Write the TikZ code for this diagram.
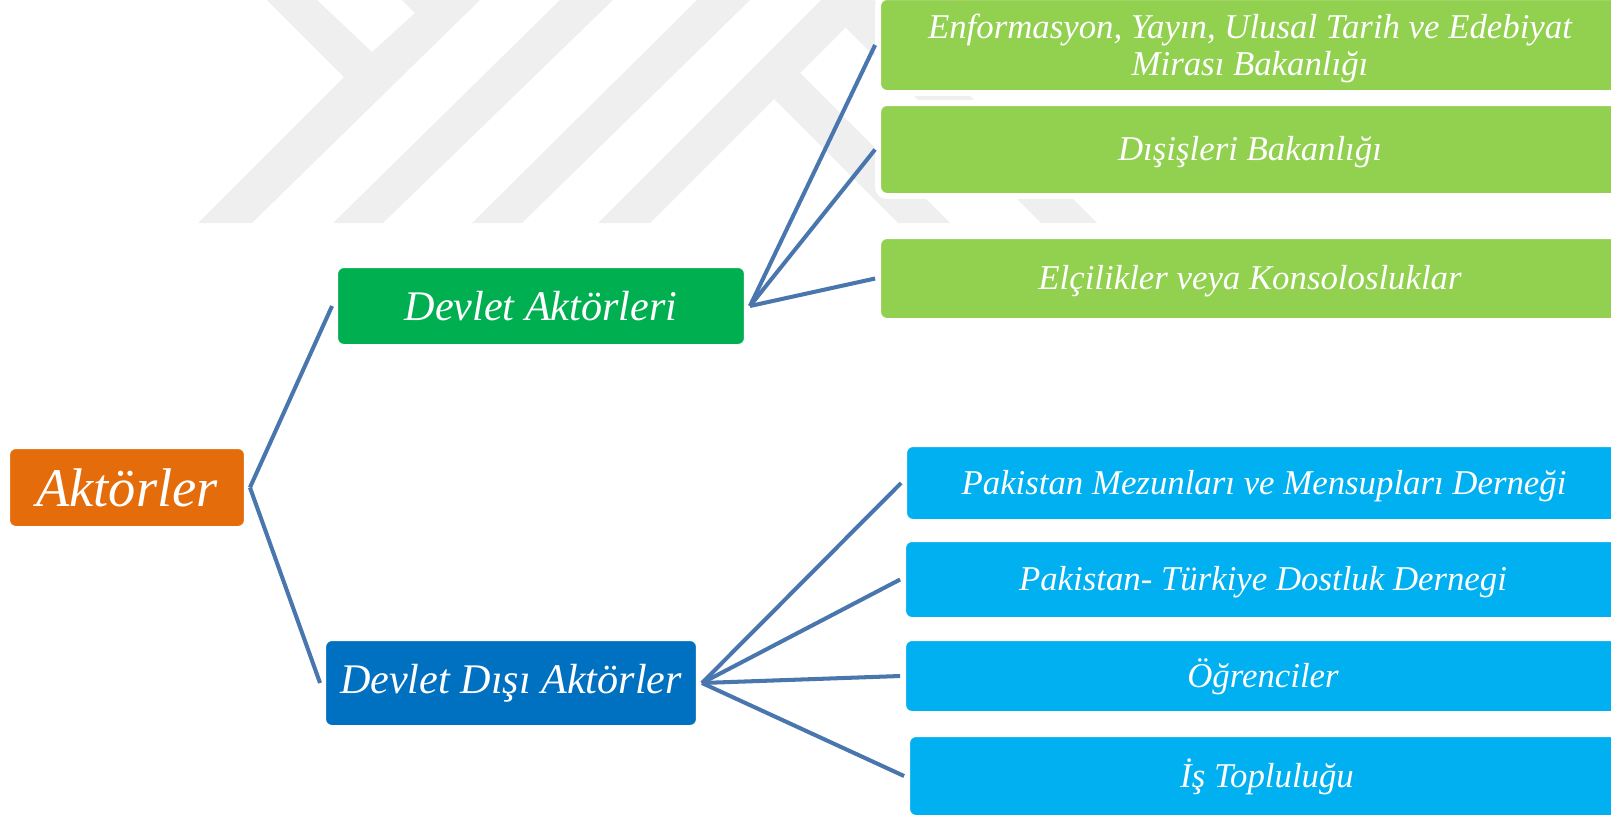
\documentclass[tikz,border=0pt]{standalone}
\usepackage{fontspec}
\setmainfont{Liberation Serif}
\usepackage{tikz}

\definecolor{rootorange}{HTML}{E46C0A}
\definecolor{stategreen}{HTML}{00B050}
\definecolor{nonstateblue}{HTML}{0070C0}
\definecolor{leafgreen}{HTML}{92D050}
\definecolor{leafblue}{HTML}{00B0F0}
\definecolor{linkblue}{HTML}{4A76AE}
\definecolor{logogray}{HTML}{EFEFEF}

\begin{document}
\begin{tikzpicture}
				[
					x = 0.02cm, y = -0.02cm,
					box/.style = {draw = white, line width = 3.4pt, rounded corners = 5pt, text = white, inner sep = 0pt, align = center},
					root/.style = {box, fill = rootorange, minimum width = 4.8cm, minimum height = 1.66cm, font = \itshape\fontsize{31}{31}\selectfont},
					group/.style = {box, minimum height = 1.64cm, font = \itshape\fontsize{24}{24}\selectfont},
					leaf/.style = {box, font = \itshape\fontsize{19.8}{20.8}\selectfont},
					oneline/.style = {text height = 16.5pt, text depth = 3.8pt},
					stateleaf/.style = {leaf, fill = leafgreen, minimum width = 14.88cm},
					civilleaf/.style = {leaf, oneline, fill = leafblue, minimum width = 14.4cm},
					link/.style = {draw = linkblue, line width = 2.3pt}
				]
				\useasboundingbox (0,0) rectangle (1611,816);
				% watermark
				\fill[logogray] (267,0) -- (317,0) -- (372,52) -- (415,13) -- (402,0) -- (480,0) -- (252,223) -- (198,223) -- (344,77) -- cycle;
				\fill[logogray] (560,0) -- (613,0) -- (383,223) -- (333,223) -- cycle;
				\fill[logogray] (697,0) -- (750,0) -- (522,223) -- (472,223) -- cycle;
				\fill[logogray] (598,223) -- (821,0) -- (874,0) -- (1097,223) -- (1041,223) -- (845.5,27.5) -- (650,223) -- cycle;
				\fill[logogray] (774,99) -- (800,73) -- (950,223) -- (898,223) -- cycle;

				\node[root] (aktorler) at (127,487.5) {Aktörler};
				\node[group, fill = stategreen, minimum width = 8.24cm] (devlet) at (541,306) {Devlet Aktörleri};
				\node[group, fill = nonstateblue, minimum width = 7.52cm, minimum height = 1.8cm] (devletdisi) at (511,683) {Devlet Dışı Aktörler};

				\node[stateleaf, minimum height = 1.92cm] (enformasyon) at (1250,45) {\rule{0pt}{18pt}Enformasyon, Yayın, Ulusal Tarih ve Edebiyat\\Mirası Bakanlığı};
				\node[stateleaf, oneline, minimum height = 1.86cm] (disisleri) at (1250,149.5) {Dışişleri Bakanlığı};
				\node[stateleaf, oneline, minimum height = 1.7cm] (elcilik) at (1250,278.5) {Elçilikler veya Konsolosluklar};

				\node[civilleaf, minimum height = 1.56cm] (mezun) at (1264,483) {Pakistan Mezunları ve Mensupları Derneği};
				\node[civilleaf, minimum height = 1.62cm] (dostluk) at (1263,579.5) {Pakistan- Türkiye Dostluk Dernegi};
				\node[civilleaf, minimum height = 1.52cm] (ogrenci) at (1263,676) {Öğrenciler};
				\node[civilleaf, minimum height = 1.68cm] (isdunyasi) at (1267,776) {İş Topluluğu};

				\foreach \group in {devlet, devletdisi}
					\draw[link] (aktorler.east) -- (\group.west);
				\foreach \leaf in {enformasyon, disisleri, elcilik}
					\draw[link] (devlet.east) -- (\leaf.west);
				\foreach \leaf in {mezun, dostluk, ogrenci, isdunyasi}
					\draw[link] (devletdisi.east) -- (\leaf.west);
		\end{tikzpicture}
\end{document}
